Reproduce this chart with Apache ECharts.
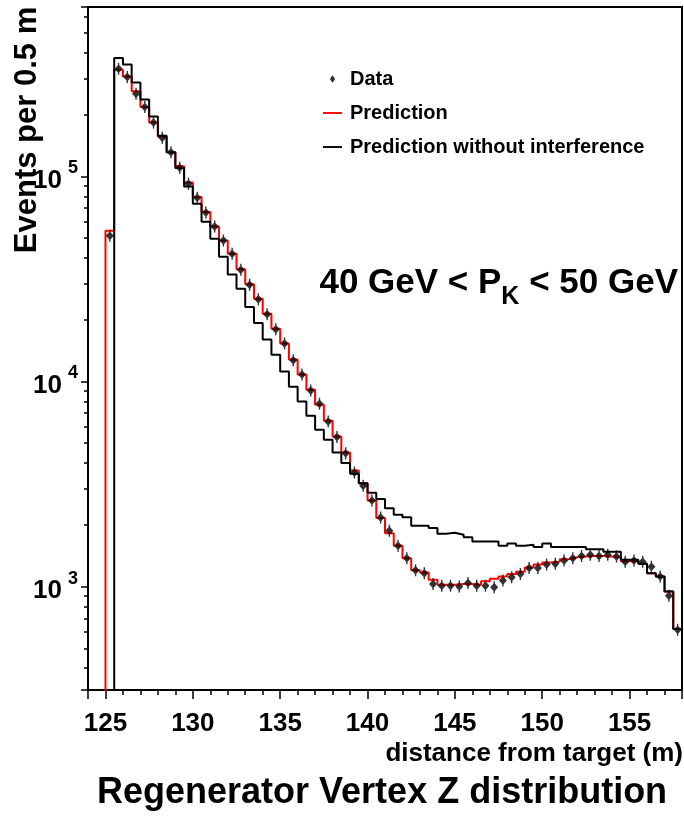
<!DOCTYPE html>
<html>
<head>
<meta charset="utf-8">
<script src="https://cdn.jsdelivr.net/npm/echarts@6/dist/echarts.min.js"></script>
<style>
html,body{margin:0;padding:0;background:#fff;}
#chart{width:684px;height:821px;}
</style>
</head>
<body>
<div id="chart"></div>
<script>
// ---------- data ----------
const BIN_START = 125.0;      // low edge of first bin (m)
const BIN_WIDTH = 0.5;        // m per bin

const dataCounts = [
  51400, 335000, 305000, 253000, 218000, 183000, 154500, 131000, 110300, 92100,
  78700, 66700, 57000, 48700, 42000, 35100, 29600, 25200, 21300, 18000,
  15300, 12700, 10800, 9040, 7790, 6380, 5360, 4470, 3600, 3100,
  2630, 2170, 1870, 1580, 1375, 1200, 1160, 1030, 1010, 1010,
  1000, 1040, 1010, 1010, 993, 1070, 1110, 1150, 1230, 1230,
  1280, 1290, 1340, 1375, 1410, 1430, 1410, 1430, 1400, 1320,
  1340, 1320, 1250, 1120, 901, 615
];

const prediction = [
  54300, 331000, 307000, 260000, 218000, 183000, 156000, 131000, 112000, 93500,
  79400, 67000, 57000, 48700, 42000, 35300, 29800, 25300, 21400, 18100,
  15300, 12800, 10800, 9110, 7700, 6430, 5390, 4500, 3680, 3190,
  2630, 2160, 1820, 1580, 1375, 1200, 1170, 1080, 1020, 1020,
  1030, 1030, 1020, 1060, 1090, 1120, 1150, 1180, 1240, 1280,
  1310, 1320, 1360, 1390, 1400, 1410, 1410, 1400, 1390, 1330,
  1330, 1290, 1160, 1120, 945, 620
];

const predictionNoInterference = [
  null, 378000, 351000, 287000, 237000, 196000, 158000, 131000, 110000, 89400,
  73600, 60100, 49700, 40600, 33200, 28300, 23100, 19300, 16000, 13500,
  11200, 9420, 7990, 6800, 5810, 5200, 4500, 4000, 3550, 3190,
  2870, 2670, 2410, 2240, 2180, 1980, 1980, 1930, 1810, 1830,
  1790, 1740, 1660, 1660, 1660, 1580, 1620, 1580, 1600, 1560,
  1620, 1560, 1560, 1560, 1560, 1520, 1520, 1480, 1480, 1350,
  1350, 1290, 1160, 1120, 945, 620
];

const X_MIN = 124, X_MAX = 158;          // frame range (m)
const X_LABEL_STEP = 5;                  // labelled ticks every 5 m
const Y_MIN = 313, Y_MAX = 670000;       // frame range (events)

const seriesNames = ['Data', 'Prediction', 'Prediction without interference'];
const titleText = 'Regenerator Vertex Z distribution';
const xAxisTitle = 'distance from target (m)';
const yAxisTitle = 'Events per 0.5 m';

// ---------- helpers ----------
const FONT = '"Liberation Sans", Arial, Helvetica, sans-serif';
const FLOOR = 100; // below the axis minimum: drawn outside the frame and clipped

function histogramOutline(values) {
  const pts = [[BIN_START, FLOOR]];
  values.forEach((v, k) => {
    const lo = BIN_START + k * BIN_WIDTH;
    const hi = lo + BIN_WIDTH;
    const y = (v == null || v <= 0) ? FLOOR : v;
    pts.push([lo, y], [hi, y]);
  });
  pts.push([BIN_START + values.length * BIN_WIDTH, FLOOR]);
  return pts;
}

const dataPoints = dataCounts.map((v, k) => [BIN_START + (k + 0.5) * BIN_WIDTH, v]);

const DATA_SYMBOL = 'path://M-0.7,-6L0.7,-6L0.7,6L-0.7,6Z M-4,0L0,-4.5L4,0L0,4.5Z';
const DATA_LEGEND_ICON = 'path://M0,0M20,14M10,3L12.8,7L10,11L7.2,7Z';
const LINE_LEGEND_ICON = 'path://M0,0L20,0L20,2L0,2Z';

const TICK_STYLE = {color: '#000', width: 1.5};

function yLabel(v) {
  const e = Math.log10(v);
  if (Math.abs(e - Math.round(e)) > 1e-6) return '';
  return '{b|10}{s|' + Math.round(e) + '}';
}

const chart = echarts.init(document.getElementById('chart'), null, {renderer: 'canvas'});

const option = {
  animation: false,
  backgroundColor: '#ffffff',
  title: {
    text: titleText,
    left: 97,
    top: 775,
    padding: 0,
    textStyle: {fontFamily: FONT, fontWeight: 'bold', fontSize: 36, color: '#000'}
  },
  legend: {
    orient: 'vertical',
    left: 323,
    top: 69,
    padding: 0,
    itemWidth: 19,
    itemHeight: 14,
    itemGap: 14,
    selectedMode: false,
    data: [
      {name: seriesNames[0], icon: DATA_LEGEND_ICON},
      {name: seriesNames[1], icon: LINE_LEGEND_ICON},
      {name: seriesNames[2], icon: LINE_LEGEND_ICON}
    ],
    textStyle: {fontFamily: FONT, fontWeight: 'bold', fontSize: 20, color: '#000', lineHeight: 20, padding: [0, 0, 0, 3]}
  },
  grid: {
    left: 88, right: 2, top: 7, bottom: 131,
    show: true,
    backgroundColor: 'transparent',
    borderColor: '#000',
    borderWidth: 2,
    containLabel: false,
    outerBoundsMode: 'none'
  },
  graphic: [{
    type: 'text',
    right: 6,
    top: 263,
    style: {
      text: '{a|40 GeV < P}{k|K}{a| < 50 GeV}',
      fill: '#000',
      rich: {
        a: {fontFamily: FONT, fontWeight: 'bold', fontSize: 35, lineHeight: 40, fill: '#000'},
        k: {fontFamily: FONT, fontWeight: 'bold', fontSize: 25, lineHeight: 4, verticalAlign: 'top', padding: [22, 0, 0, 0], fill: '#000'}
      }
    }
  }, {
    type: 'text',
    right: 1,
    top: 741,
    style: {
      text: xAxisTitle,
      fill: '#000',
      font: 'bold 26px ' + FONT
    }
  }, {
    type: 'text',
    x: 27,
    y: 130,
    rotation: Math.PI / 2,
    style: {
      text: yAxisTitle,
      fill: '#000',
      font: 'bold 31px ' + FONT,
      align: 'center',
      verticalAlign: 'middle'
    }
  }],
  xAxis: {
    type: 'value',
    min: X_MIN, max: X_MAX,
    splitNumber: 7,
    position: 'bottom',
    axisLine: {show: true, onZero: false, lineStyle: {color: '#000', width: 2}},
    axisTick: {show: true, inside: false, length: 9, lineStyle: TICK_STYLE},
    minorTick: {show: true, splitNumber: 5, length: 5, lineStyle: TICK_STYLE},
    axisLabel: {
      show: true, margin: 21,
      formatter: function (v) { return (Math.abs(v / X_LABEL_STEP - Math.round(v / X_LABEL_STEP)) < 1e-6) ? String(Math.round(v)) : ''; },
      fontFamily: FONT, fontWeight: 'bold', fontSize: 26, color: '#000'
    },
    splitLine: {show: false},
    minorSplitLine: {show: false}
  },
  yAxis: {
    type: 'log',
    logBase: 10,
    min: Y_MIN, max: Y_MAX,
    position: 'left',
    axisLine: {show: true, onZero: false, lineStyle: {color: '#000', width: 2}},
    axisTick: {show: true, inside: false, length: 7, lineStyle: TICK_STYLE},
    minorTick: {show: true, splitNumber: 9, length: 4, lineStyle: TICK_STYLE},
    axisLabel: {
      show: true, margin: 10,
      formatter: yLabel,
      rich: {
        b: {fontFamily: FONT, fontWeight: 'bold', fontSize: 26, color: '#000', lineHeight: 34, verticalAlign: 'bottom'},
        s: {fontFamily: FONT, fontWeight: 'bold', fontSize: 18, color: '#000', lineHeight: 18, verticalAlign: 'top', padding: [0, 0, 0, 6]}
      }
    },
    splitLine: {show: false},
    minorSplitLine: {show: false}
  },
  series: [{
    name: seriesNames[1],
    type: 'line',
    data: histogramOutline(prediction),
    showSymbol: false,
    symbol: 'none',
    clip: true,
    lineStyle: {color: '#ff0000', width: 2},
    itemStyle: {color: '#ff0000'},
    z: 2
  }, {
    name: seriesNames[2],
    type: 'line',
    data: histogramOutline(predictionNoInterference),
    showSymbol: false,
    symbol: 'none',
    clip: true,
    lineStyle: {color: '#000000', width: 2},
    itemStyle: {color: '#000000'},
    z: 3
  }, {
    name: seriesNames[0],
    type: 'scatter',
    data: dataPoints,
    symbol: DATA_SYMBOL,
    symbolSize: [8, 12],
    itemStyle: {color: '#000000'},
    z: 4
  }]
};

chart.setOption(option);
</script>
</body>
</html>
